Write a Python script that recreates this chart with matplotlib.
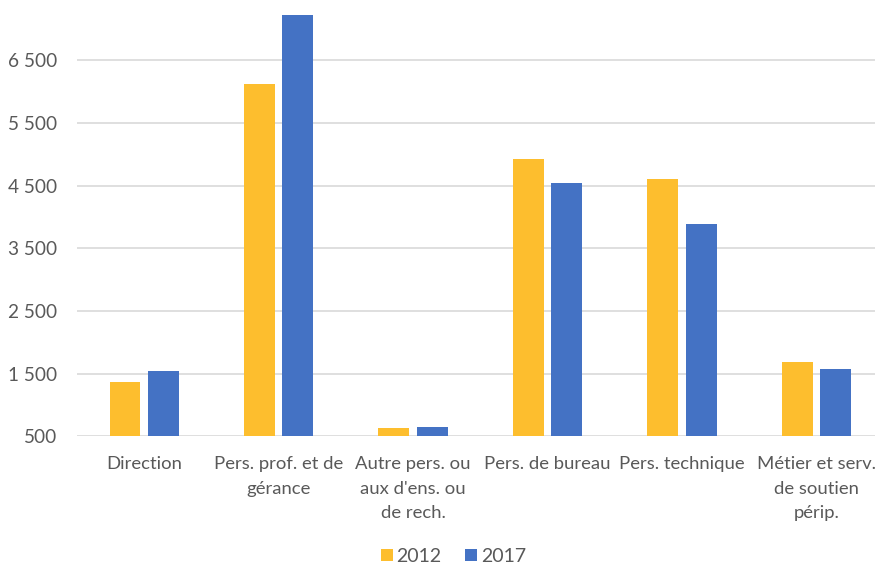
import matplotlib
matplotlib.use("Agg")
import matplotlib.pyplot as plt
import numpy as np
from matplotlib.ticker import FuncFormatter, FixedLocator

plt.rcParams['font.family'] = ['Lato', 'DejaVu Sans']

categories = [
    "Direction",
    "Pers. prof. et de\ngérance",
    "Autre pers. ou\naux d'ens. ou\nde rech.",
    "Pers. de bureau",
    "Pers. technique",
    "Métier et serv.\nde soutien\npérip.",
]
values_2012 = [1370, 6120, 628, 4925, 4600, 1690]
values_2017 = [1540, 7225, 652, 4535, 3880, 1578]
series_labels = ["2012", "2017"]
y_ticks = [500, 1500, 2500, 3500, 4500, 5500, 6500]

color_2012 = "#FDBE2E"
color_2017 = "#4472C4"
text_color = "#595959"

fig = plt.figure(figsize=(8.75, 5.63), dpi=100)
ax = fig.add_axes([0.088, 0.225, 0.922, 0.7796])

x = np.arange(len(categories))
width = 0.23
offset = 0.143
ax.bar(x - offset, values_2012, width, color=color_2012, label=series_labels[0], zorder=3)
ax.bar(x + offset, values_2017, width, color=color_2017, label=series_labels[1], zorder=3)

ax.set_xlim(-0.5, len(categories) - 0.5)
ax.set_ylim(500, 7500)
ax.yaxis.set_major_locator(FixedLocator(y_ticks))
ax.yaxis.set_major_formatter(FuncFormatter(lambda v, p: f"{int(v):,}".replace(",", " ")))
ax.grid(axis="y", color="#D9D9D9", linewidth=1.2, zorder=0)
for s in ax.spines.values():
    s.set_visible(False)

ax.set_xticks(x)
ax.set_xticklabels(categories, linespacing=1.68, fontsize=13.3)
ax.tick_params(axis="both", length=0, colors=text_color)
ax.tick_params(axis="y", pad=14, labelsize=13.7)
ax.tick_params(axis="x", pad=14)

fig.legend(loc="center", bbox_to_anchor=(0.518, 0.012), ncol=2, frameon=False,
           fontsize=14, handlelength=0.62, handleheight=0.62, handletextpad=0.2,
           columnspacing=1.2, labelcolor=text_color)

fig.savefig("out.png", dpi=100)
